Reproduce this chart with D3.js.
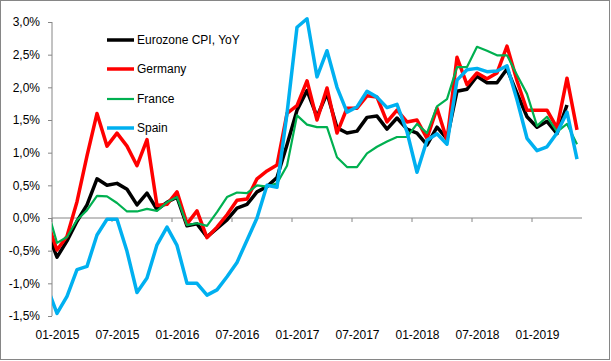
<!DOCTYPE html>
<html><head><meta charset="utf-8">
<script src="https://cdn.jsdelivr.net/npm/d3@7"></script>
<style>
body{margin:0;background:#fff;}
text{font-family:"Liberation Sans",Arial,sans-serif;}
</style></head>
<body><svg id="c" width="611" height="361"></svg>
<script>
// Months: Dec 2014 .. May 2019
const months = [];
for (let i = 0; i < 54; i++) {
  const m = (11 + i) % 12 + 1, y = 2014 + Math.floor((11 + i) / 12);
  months.push((m < 10 ? "0" : "") + m + "-" + y);
}
const seriesNames = ["Eurozone CPI, YoY", "Germany", "France", "Spain"];
const seriesColors = ["#000000", "#FF0000", "#00B050", "#00B0F0"];
const eurozone = [-0.2,-0.6,-0.35,-0.05,0.2,0.6,0.5,0.53,0.44,0.2,0.38,0.13,0.24,0.32,-0.12,-0.09,-0.29,-0.16,-0.03,0.15,0.21,0.4,0.48,0.62,1.12,1.65,1.95,1.55,1.91,1.38,1.3,1.33,1.54,1.56,1.36,1.53,1.36,1.3,1.12,1.39,1.21,1.94,1.97,2.17,2.07,2.07,2.28,1.91,1.55,1.39,1.48,1.29,1.73,null];
const germany = [-0.05,-0.49,-0.28,0.25,0.95,1.6,1.1,1.3,1.1,0.8,1.2,0.19,0.21,0.4,-0.09,0.11,-0.3,-0.14,0.05,0.27,0.29,0.6,0.72,0.81,1.6,1.72,2.1,1.5,1.99,1.3,1.68,1.68,1.87,1.85,1.47,1.65,1.47,1.5,1.22,1.68,1.19,2.46,2.04,2.22,2.13,2.22,2.63,2.1,1.65,1.65,1.65,1.38,2.14,1.35];
const france = [0.15,-0.38,-0.29,-0.03,0.12,0.34,0.33,0.23,0.1,0.1,0.14,0.11,0.24,0.32,-0.11,-0.08,-0.12,0.09,0.32,0.39,0.38,0.5,0.48,0.53,0.8,1.57,1.43,1.39,1.39,0.93,0.78,0.78,0.99,1.09,1.17,1.24,1.24,1.44,1.3,1.71,1.82,2.31,2.31,2.62,2.56,2.49,2.49,2.19,1.9,1.41,1.55,1.32,1.44,1.13];
const spain = [-1.05,-1.46,-1.2,-0.79,-0.74,-0.26,-0.02,-0.02,-0.51,-1.14,-0.92,-0.41,-0.14,-0.42,-1.0,-1.0,-1.18,-1.1,-0.9,-0.68,-0.34,0.0,0.5,0.47,1.6,2.92,3.05,2.16,2.56,2.0,1.62,1.7,1.94,1.85,1.69,1.74,1.32,0.7,1.19,1.29,1.13,2.11,2.27,2.29,2.24,2.25,2.33,1.81,1.22,1.03,1.09,1.3,1.62,0.9];
const xTickLabels = ["01-2015","07-2015","01-2016","07-2016","01-2017","07-2017","01-2018","07-2018","01-2019"];
const yTicks = [-1.5,-1.0,-0.5,0.0,0.5,1.0,1.5,2.0,2.5,3.0];

const svg = d3.select("#c");
const axisColor = "#868686";
svg.append("rect").attr("x",0.5).attr("y",0.5).attr("width",609).attr("height",359)
  .attr("fill","#fff").attr("stroke",axisColor);

const x = d3.scalePoint().domain(months).range([47, 577]);
const step = x.step();
const left = x(months[0]) + step/2, right = x(months[months.length-1]) + step/2;
const y = d3.scaleLinear().domain([-1.5, 3.0]).range([316, 22]);

svg.append("clipPath").attr("id","clip").append("rect")
  .attr("x", left).attr("y", 0).attr("width", right-left).attr("height", 361);

// Y axis
const ya = svg.append("g").attr("transform",`translate(${left},0)`)
  .call(d3.axisLeft(y).tickValues(yTicks).tickSize(4).tickPadding(8)
    .tickFormat(d => d.toFixed(1).replace(".", ",") + "%"));
ya.select(".domain").attr("stroke",axisColor).attr("d",`M-0,${y(-1.5)}V${y(3.0)}`);
ya.selectAll(".tick line").attr("stroke",axisColor);
ya.selectAll("text").attr("font-size",12).attr("fill","#000").attr("font-family","Liberation Sans, Arial, sans-serif");

// X axis line at zero
svg.append("line").attr("x1",left).attr("x2",right).attr("y1",y(0)).attr("y2",y(0)).attr("stroke",axisColor);
svg.append("g").selectAll("line").data(xTickLabels).join("line")
  .attr("x1",d=>x(d)-step/2).attr("x2",d=>x(d)-step/2)
  .attr("y1",y(0)).attr("y2",y(0)+4).attr("stroke",axisColor);
const xa = svg.append("g").attr("transform",`translate(0,${330})`)
  .call(d3.axisBottom(x).tickValues(xTickLabels).tickSize(0).tickPadding(0));
xa.select(".domain").remove();
xa.selectAll("text").attr("font-size",12).attr("fill","#000").attr("font-family","Liberation Sans, Arial, sans-serif");

// Lines
const allSeries = [eurozone, germany, france, spain];
const widths = [3.5, 3.5, 2.2, 3.5];
const line = d3.line().defined(d => d[1] !== null).x(d => x(d[0])).y(d => y(d[1]));
const lg = svg.append("g").attr("clip-path","url(#clip)");
allSeries.forEach((s, k) => {
  lg.append("path").datum(months.map((m,i)=>[m, s[i]]))
    .attr("fill","none").attr("stroke",seriesColors[k]).attr("stroke-width",widths[k])
    .attr("stroke-linejoin","round").attr("d", line);
});

// Legend
const leg = svg.append("g");
const legY = [40, 69, 99, 128];
seriesNames.forEach((n,k) => {
  leg.append("line").attr("x1",107).attr("x2",134).attr("y1",legY[k]).attr("y2",legY[k])
    .attr("stroke",seriesColors[k]).attr("stroke-width",widths[k]);
  leg.append("text").attr("x",137).attr("y",legY[k]).attr("dy","0.35em")
    .attr("font-size",12).attr("fill","#000").text(n);
});
</script></body></html>
